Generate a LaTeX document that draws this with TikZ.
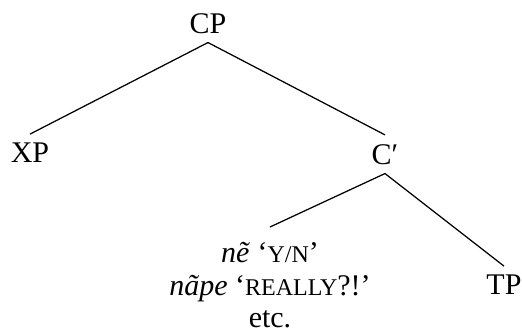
\documentclass[tikz,border=0pt]{standalone}
\usepackage{fontspec}
\setmainfont{Liberation Serif}
\usepackage{tikz}
\usetikzlibrary{positioning}
\newcommand{\fakesc}[1]{{\fontsize{9.6}{10}\selectfont #1}}

\begin{document}
\begin{tikzpicture}[x=0.4pt, y=-0.4pt,
    cat/.style={inner sep=3.5pt, font=\fontsize{12}{13}\selectfont},
    branch/.style={line width=0.5pt}]
    \useasboundingbox (0,0) rectangle (522,333);

    % Root
    \node[cat, anchor=base] (cp) at (208, 33) {CP};

    % Second level
    \node[cat, anchor=base] (xp) at (30, 163) {XP};
    \node[cat, anchor=base] (cbar) at (385, 164) {C′};

    % Third level
    \node[cat, anchor=north, align=center, inner sep=6pt] (head) at (270, 227)
        {\textit{nẽ} ‘\fakesc{Y/N}’\\ \textit{nãpe} ‘\fakesc{REALLY}?!’\\ etc.};
    \node[cat, anchor=base] (tp) at (504, 295) {TP};

    % Branches
    \draw[branch] (cp.south) -- (xp.north);
    \draw[branch] (cp.south) -- (cbar.north);
    \draw[branch] (cbar.south) -- (head.north);
    \draw[branch] (cbar.south) -- (tp.north);
\end{tikzpicture}
\end{document}
